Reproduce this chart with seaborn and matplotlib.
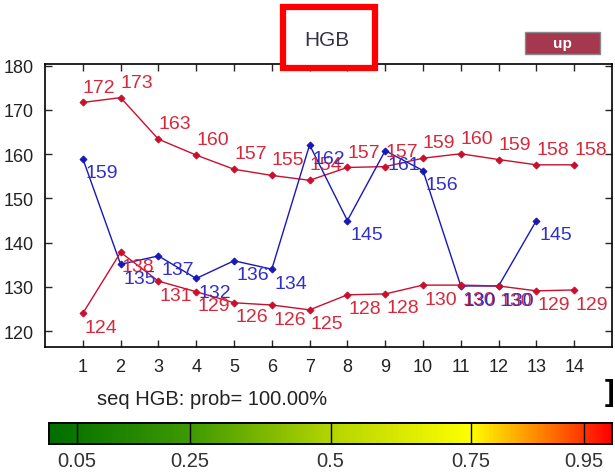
import numpy as np
import pandas as pd
import seaborn as sns
from matplotlib import pyplot as plt
from matplotlib.colors import LinearSegmentedColormap
from matplotlib.patches import Rectangle

# data
seq = list(range(1, 15))
upper_red = [171.7, 172.8, 163.4, 159.8, 156.6, 155.2, 154.1, 157.0, 157.2, 159.1, 160.1, 158.8, 157.6, 157.6]
lower_red = [124.0, 137.8, 131.3, 128.9, 126.4, 125.9, 124.8, 128.2, 128.4, 130.4, 130.4, 130.2, 129.1, 129.3]
blue_seq = list(range(1, 14))
blue_vals = [159.0, 135.1, 137.0, 131.9, 135.9, 134.0, 162.1, 145.0, 160.8, 156.3, 130.2, 130.2, 145.0]
prob_ticks = [0.05, 0.25, 0.5, 0.75, 0.95]
prob_labels = ["0.05", "0.25", "0.5", "0.75", "0.95"]
title = "HGB"
subtitle = "seq HGB: prob= 100.00%"

RED = "#c8102e"
RED_TXT = "#d42a3c"
BLUE = "#1818b8"
BLUE_TXT = "#3030c8"

sns.set_theme(style="ticks")
plt.rcParams["font.family"] = ["Liberation Sans", "DejaVu Sans"]

fig = plt.figure(figsize=(6.15, 4.77), dpi=100)
ax = fig.add_axes([45 / 615, 1 - 348 / 477, 567 / 615, 283 / 477])

df_up = pd.DataFrame({"seq": seq, "val": upper_red})
df_lo = pd.DataFrame({"seq": seq, "val": lower_red})
df_bl = pd.DataFrame({"seq": blue_seq, "val": blue_vals})

for df, col in [(df_up, RED), (df_bl, BLUE), (df_lo, RED)]:
    sns.lineplot(data=df, x="seq", y="val", ax=ax, color=col, linewidth=1,
                 marker="D", markersize=3.5, markeredgecolor=col, sort=False)

# value labels: upper line above, others below
LBL = 14
for x, y in zip(seq, upper_red):
    ax.annotate(f"{round(y)}", (x, y), xytext=(0, 5), textcoords="offset points",
                ha="left", va="bottom", fontsize=LBL, color=RED_TXT)
for x, y in zip(seq, lower_red):
    ax.annotate(f"{round(y)}", (x, y), xytext=(1, -4), textcoords="offset points",
                ha="left", va="top", fontsize=LBL, color=RED_TXT)
for x, y in zip(blue_seq, blue_vals):
    ax.annotate(f"{round(y)}", (x, y), xytext=(2, -4), textcoords="offset points",
                ha="left", va="top", fontsize=LBL, color=BLUE_TXT)

ax.set_xlim(0, 15)
ax.set_ylim(116.4, 180.4)
ax.set_xticks(seq)
ax.set_yticks(range(120, 181, 10))
ax.set_xlabel("")
ax.set_ylabel("")
ax.tick_params(direction="in", length=5, width=1, top=True, right=True,
               labelsize=13, labelcolor="#222222", pad=8)
for sp in ax.spines.values():
    sp.set_visible(True)
    sp.set_color("black")
    sp.set_linewidth(1.2)

# subtitle and bracket
fig.text(97 / 615, 1 - 400 / 477, subtitle, fontsize=14.5, color="#222222", va="center", ha="left")
fig.text(605 / 615, 1 - 393 / 477, "]", fontsize=21, fontweight="bold", color="black", va="center", ha="left")

# probability colour bar
cmap = LinearSegmentedColormap.from_list("prob", [
    (0.0, "#006e00"), (0.25, "#3f9a00"), (0.5, "#b4d400"),
    (0.75, "#ffff00"), (0.9, "#ff6a00"), (1.0, "#ff0000")])
cax = fig.add_axes([49 / 615, 1 - 445 / 477, 563 / 615, 21 / 477])
cax.imshow(np.linspace(0, 1, 512)[None, :], aspect="auto", cmap=cmap, extent=(0, 1, 0, 1))
for p in prob_ticks:
    cax.axvline(p, color="black", linewidth=1)
cax.set_xlim(0, 1)
cax.set_ylim(0, 1)
cax.set_yticks([])
cax.set_xticks(prob_ticks)
cax.set_xticklabels(prob_labels)
cax.tick_params(axis="x", length=0, labelsize=14.5, labelcolor="#333333", pad=5)
for sp in cax.spines.values():
    sp.set_visible(True)
    sp.set_color("black")
    sp.set_linewidth(1.4)

# title box
fig.patches.append(Rectangle((283 / 615, 1 - 69 / 477), 92 / 615, 61 / 477,
                             transform=fig.transFigure, facecolor="white",
                             edgecolor="#ff0000", linewidth=4.5, zorder=5))
fig.text(327 / 615, 1 - 40 / 477, title, fontsize=15, color="#333344",
         ha="center", va="center", zorder=6)

# "up" button
fig.patches.append(Rectangle((525 / 615, 1 - 55 / 477), 75 / 615, 22 / 477,
                             transform=fig.transFigure, facecolor="#a5384f",
                             edgecolor="#8a8a8a", linewidth=1, zorder=5))
fig.text(562 / 615, 1 - 44 / 477, "up", fontsize=11, fontweight="bold", color="white",
         ha="center", va="center", zorder=6)

fig.savefig("out.png", dpi=100)
